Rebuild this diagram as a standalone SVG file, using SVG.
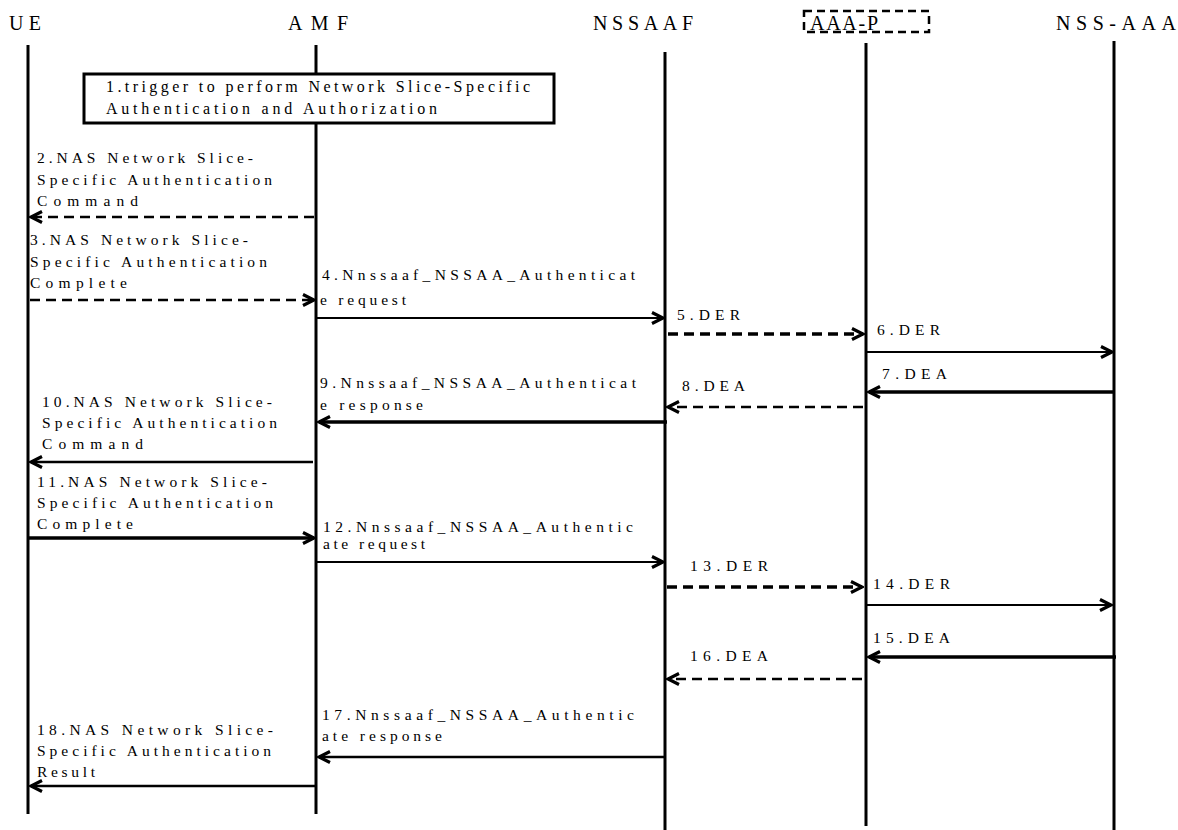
<svg xmlns="http://www.w3.org/2000/svg" width="1178" height="830" viewBox="0 0 1178 830">
<defs>
<style>
.hdr{font-family:"Liberation Serif","Times New Roman",serif;font-size:20px;fill:#000}
.lbl{font-family:"Liberation Serif","Times New Roman",serif;font-size:15.5px;fill:#000}
.life{stroke:#000;stroke-width:3;fill:none}
.m{fill:none;stroke:#000;stroke-linecap:butt}
.t2{stroke-width:2}
.t25{stroke-width:2.5}
.t35{stroke-width:3.5}
.d{stroke-dasharray:10,6}
</style>
<marker id="ah" viewBox="0 0 16 16" refX="14" refY="8" markerWidth="16" markerHeight="16" markerUnits="userSpaceOnUse" orient="auto">
<path d="M3,2.5 L14,8 L3,13.5" fill="none" stroke="#000" stroke-width="3.2" stroke-dasharray="none"/>
</marker>
</defs>
<rect width="1178" height="830" fill="#fff"/>

<g id="UE">
<text class="hdr" x="9" y="30" textLength="32" lengthAdjust="spacing">UE</text>
<line class="life" x1="28" y1="45" x2="28" y2="814"/>
</g>
<g id="AMF">
<text class="hdr" x="288" y="30" textLength="60" lengthAdjust="spacing">AMF</text>
<line class="life" x1="316" y1="45" x2="316" y2="814"/>
</g>
<g id="NSSAAF">
<text class="hdr" x="593" y="30" textLength="100" lengthAdjust="spacing">NSSAAF</text>
<line class="life" x1="665" y1="52" x2="665" y2="830"/>
</g>
<g id="AAA-P">
<rect x="804" y="11" width="125" height="21" fill="none" stroke="#000" stroke-width="2.5" stroke-dasharray="8,5"/>
<text class="hdr" x="810" y="30" textLength="68" lengthAdjust="spacing">AAA-P</text>
<line class="life" x1="866" y1="43" x2="866" y2="826"/>
</g>
<g id="NSS-AAA">
<text class="hdr" x="1056" y="30" textLength="120" lengthAdjust="spacing">NSS-AAA</text>
<line class="life" x1="1114" y1="41" x2="1114" y2="830"/>
</g>

<g id="step1">
<rect x="84" y="74" width="470" height="49" fill="#fff" stroke="#000" stroke-width="3"/>
<text class="lbl" x="106" y="92" textLength="424" lengthAdjust="spacing" style="font-size:16px">1.trigger to perform Network Slice-Specific</text>
<text class="lbl" x="106" y="114" textLength="331" lengthAdjust="spacing" style="font-size:16px">Authentication and Authorization</text>
</g>

<g id="labels">
<text class="lbl" x="37" y="163" textLength="216" lengthAdjust="spacing">2.NAS Network Slice-</text>
<text class="lbl" x="37" y="185" textLength="235" lengthAdjust="spacing">Specific Authentication</text>
<text class="lbl" x="37" y="206" textLength="101" lengthAdjust="spacing">Command</text>

<text class="lbl" x="30" y="245" textLength="218" lengthAdjust="spacing">3.NAS Network Slice-</text>
<text class="lbl" x="30" y="267" textLength="237" lengthAdjust="spacing">Specific Authentication</text>
<text class="lbl" x="30" y="288" textLength="97" lengthAdjust="spacing">Complete</text>

<text class="lbl" x="322" y="280" textLength="313" lengthAdjust="spacing">4.Nnssaaf_NSSAA_Authenticat</text>
<text class="lbl" x="320" y="305" textLength="86" lengthAdjust="spacing">e request</text>

<text class="lbl" x="677" y="320" textLength="63" lengthAdjust="spacing">5.DER</text>
<text class="lbl" x="877" y="335" textLength="63" lengthAdjust="spacing">6.DER</text>
<text class="lbl" x="882" y="379" textLength="65" lengthAdjust="spacing">7.DEA</text>
<text class="lbl" x="682" y="391" textLength="63" lengthAdjust="spacing">8.DEA</text>

<text class="lbl" x="320" y="388" textLength="316" lengthAdjust="spacing">9.Nnssaaf_NSSAA_Authenticat</text>
<text class="lbl" x="320" y="410" textLength="103" lengthAdjust="spacing">e response</text>

<text class="lbl" x="42" y="407" textLength="230" lengthAdjust="spacing">10.NAS Network Slice-</text>
<text class="lbl" x="42" y="428" textLength="235" lengthAdjust="spacing">Specific Authentication</text>
<text class="lbl" x="42" y="449" textLength="101" lengthAdjust="spacing">Command</text>

<text class="lbl" x="37" y="487" textLength="230" lengthAdjust="spacing">11.NAS Network Slice-</text>
<text class="lbl" x="37" y="508" textLength="236" lengthAdjust="spacing">Specific Authentication</text>
<text class="lbl" x="37" y="529" textLength="96" lengthAdjust="spacing">Complete</text>

<text class="lbl" x="323" y="532" textLength="310" lengthAdjust="spacing">12.Nnssaaf_NSSAA_Authentic</text>
<text class="lbl" x="323" y="549" textLength="102" lengthAdjust="spacing">ate request</text>

<text class="lbl" x="690" y="571" textLength="78" lengthAdjust="spacing">13.DER</text>
<text class="lbl" x="873" y="589" textLength="77" lengthAdjust="spacing">14.DER</text>
<text class="lbl" x="873" y="643" textLength="77" lengthAdjust="spacing">15.DEA</text>
<text class="lbl" x="690" y="661" textLength="78" lengthAdjust="spacing">16.DEA</text>

<text class="lbl" x="322" y="720" textLength="312" lengthAdjust="spacing">17.Nnssaaf_NSSAA_Authentic</text>
<text class="lbl" x="322" y="741" textLength="120" lengthAdjust="spacing">ate response</text>

<text class="lbl" x="37" y="735" textLength="236" lengthAdjust="spacing">18.NAS Network Slice-</text>
<text class="lbl" x="37" y="756" textLength="234" lengthAdjust="spacing">Specific Authentication</text>
<text class="lbl" x="37" y="777" textLength="58" lengthAdjust="spacing">Result</text>
</g>

<g id="connectors">
<line class="m t25 d" x1="314" y1="217" x2="31" y2="217" marker-end="url(#ah)"/>
<line class="m t25 d" x1="30" y1="300" x2="314" y2="300" marker-end="url(#ah)"/>
<line class="m t2" x1="316" y1="318" x2="663" y2="318" marker-end="url(#ah)"/>
<line class="m t35 d" x1="668" y1="334" x2="863" y2="334" marker-end="url(#ah)"/>
<line class="m t2" x1="866" y1="352" x2="1112" y2="352" marker-end="url(#ah)"/>
<line class="m t35" x1="1114" y1="392" x2="869" y2="392" marker-end="url(#ah)"/>
<line class="m t25 d" x1="863" y1="407" x2="668" y2="407" marker-end="url(#ah)"/>
<line class="m t35" x1="667" y1="422" x2="319" y2="422" marker-end="url(#ah)"/>
<line class="m t25" x1="313" y1="462" x2="31" y2="462" marker-end="url(#ah)"/>
<line class="m t35" x1="28" y1="538" x2="314" y2="538" marker-end="url(#ah)"/>
<line class="m t2" x1="316" y1="562" x2="663" y2="562" marker-end="url(#ah)"/>
<line class="m t35 d" x1="667" y1="587" x2="862" y2="587" marker-end="url(#ah)"/>
<line class="m t2" x1="866" y1="605" x2="1111" y2="605" marker-end="url(#ah)"/>
<line class="m t35" x1="1116" y1="657" x2="869" y2="657" marker-end="url(#ah)"/>
<line class="m t25 d" x1="862" y1="679" x2="668" y2="679" marker-end="url(#ah)"/>
<line class="m t25" x1="665" y1="757" x2="319" y2="757" marker-end="url(#ah)"/>
<line class="m t25" x1="316" y1="786" x2="31" y2="786" marker-end="url(#ah)"/>
</g>
</svg>
